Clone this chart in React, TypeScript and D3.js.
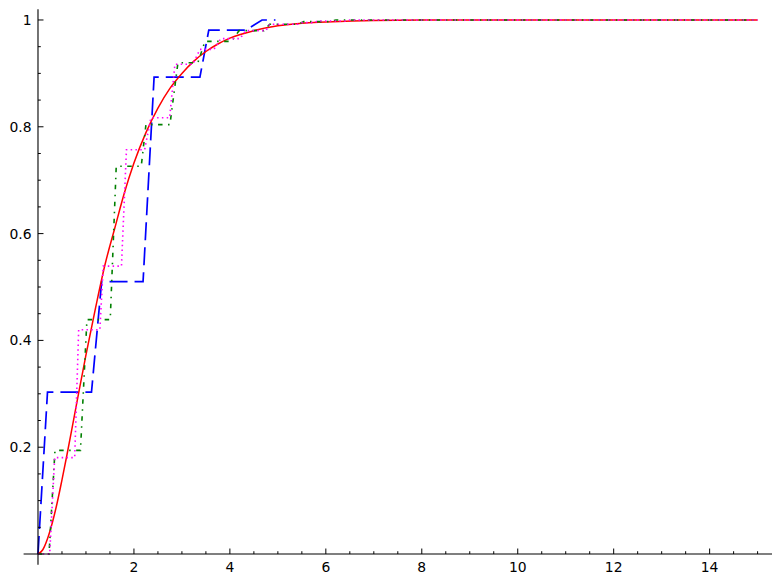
import React from "react";
import * as d3 from "d3";

// Red smooth curve
const redX = [0, 0.1, 0.2, 0.3, 0.4, 0.5, 0.6, 0.7, 0.8, 0.9, 1.0, 1.2, 1.4, 1.6, 1.8, 2.0, 2.25, 2.5, 2.75, 3.0, 3.25, 3.5, 3.75, 4.0, 4.5, 5.0, 5.5, 6.0, 7.0, 8.0, 10, 15];
const redY = [0, 0.008, 0.029, 0.059, 0.096, 0.139, 0.184, 0.231, 0.279, 0.326, 0.373, 0.461, 0.543, 0.61, 0.676, 0.732, 0.789, 0.835, 0.872, 0.9, 0.923, 0.941, 0.955, 0.966, 0.98, 0.989, 0.994, 0.996, 0.999, 1.0, 1.0, 1.0];

// Blue dashed step line
const blueX = [0, 0.198, 1.115, 1.327, 2.19, 2.42, 3.375, 3.56, 4.33, 4.67, 4.95];
const blueY = [0, 0.303, 0.303, 0.51, 0.51, 0.893, 0.893, 0.981, 0.981, 1.0, 1.0];

// Green dash-dot step line
const greenX = [0, 0.23, 0.354, 0.885, 1.02, 1.506, 1.631, 2.152, 2.25, 2.75, 2.917, 3.333, 3.48, 4.04, 4.19, 4.71, 4.83, 5.42, 5.54, 6.08, 6.21, 15];
const greenY = [0, 0, 0.194, 0.194, 0.439, 0.439, 0.726, 0.726, 0.804, 0.804, 0.92, 0.92, 0.96, 0.96, 0.98, 0.98, 0.992, 0.992, 0.997, 0.997, 1.0, 1.0];

// Magenta dotted step line
const magentaX = [0, 0.244, 0.348, 0.765, 0.848, 1.29, 1.36, 1.74, 1.844, 2.223, 2.354, 2.744, 2.854, 3.229, 3.375, 3.667, 3.81, 4.21, 4.33, 4.75, 4.83, 5.42, 5.5, 5.75, 5.83, 6.4, 6.5, 15];
const magentaY = [0, 0, 0.1805, 0.1805, 0.42, 0.42, 0.539, 0.539, 0.757, 0.757, 0.817, 0.817, 0.917, 0.917, 0.945, 0.945, 0.965, 0.965, 0.98, 0.98, 0.992, 0.992, 0.995, 0.995, 0.998, 0.998, 1.0, 1.0];

const xMajorTicks = [2, 4, 6, 8, 10, 12, 14];
const xTickLabels = ["2", "4", "6", "8", "10", "12", "14"];
const yMajorTicks = [0.2, 0.4, 0.6, 0.8, 1];
const yTickLabels = ["0.2", "0.4", "0.6", "0.8", "1"];

const W = 781;
const H = 584;

export default function App() {
  const x = d3.scaleLinear().domain([-0.3, 15.3]).range([23.6, 772]);
  const y = d3.scaleLinear().domain([-0.02, 1.02]).range([564.7, 9.3]);

  const toPts = (xs: number[], ys: number[]) => xs.map((v, i) => [v, ys[i]] as [number, number]);
  const stepLine = d3.line<[number, number]>().x((d) => x(d[0])).y((d) => y(d[1]));
  const smoothLine = d3
    .line<[number, number]>()
    .x((d) => x(d[0]))
    .y((d) => y(d[1]))
    .curve(d3.curveMonotoneX);

  const x0 = x(0);
  const y0 = y(0);

  const xMinor = d3.range(0.5, 15.01, 0.5).filter((v) => Math.abs(v / 2 - Math.round(v / 2)) > 1e-6);
  const yMinor = d3.range(0.05, 1.001, 0.05).filter((v) => Math.abs(v / 0.2 - Math.round(v / 0.2)) > 1e-6);

  const font = { fontFamily: "'DejaVu Sans', sans-serif", fontSize: "13.9px" };

  return (
    <svg
      width={W}
      height={H}
      style={{ position: "absolute", left: 0, top: 0, background: "#fff" }}
    >
      <rect x={0} y={0} width={W} height={H} fill="#fff" />
      {/* data lines */}
      <path d={stepLine(toPts(blueX, blueY)) || ""} fill="none" stroke="#0000ff" strokeWidth={1.7} strokeDasharray="18,7" />
      <path d={smoothLine(toPts(redX, redY)) || ""} fill="none" stroke="#ff0000" strokeWidth={1.5} />
      <path d={stepLine(toPts(greenX, greenY)) || ""} fill="none" stroke="#008000" strokeWidth={1.6} strokeDasharray="4.5,5.5,1.5,5.5" />
      <path d={stepLine(toPts(magentaX, magentaY)) || ""} fill="none" stroke="#ff00ff" strokeWidth={1.6} strokeDasharray="1.5,3.3" />

      {/* axes */}
      <line x1={x(-0.3)} x2={x(15.3)} y1={y0} y2={y0} stroke="#000" strokeWidth={1.1} />
      <line x1={x0} x2={x0} y1={y(-0.02)} y2={y(1.02)} stroke="#000" strokeWidth={1.1} />

      {xMajorTicks.map((v) => (
        <line key={"xM" + v} x1={x(v)} x2={x(v)} y1={y0} y2={y0 - 5.5} stroke="#000" strokeWidth={1} />
      ))}
      {xMinor.map((v) => (
        <line key={"xm" + v} x1={x(v)} x2={x(v)} y1={y0} y2={y0 - 2.8} stroke="#000" strokeWidth={1} />
      ))}
      {yMajorTicks.map((v) => (
        <line key={"yM" + v} x1={x0} x2={x0 + 5.5} y1={y(v)} y2={y(v)} stroke="#000" strokeWidth={1} />
      ))}
      {yMinor.map((v) => (
        <line key={"ym" + v} x1={x0} x2={x0 + 2.8} y1={y(v)} y2={y(v)} stroke="#000" strokeWidth={1} />
      ))}

      {xMajorTicks.map((v, i) => (
        <text key={"xl" + v} x={x(v)} y={y0 + 17.7} textAnchor="middle" style={font} fill="#000">
          {xTickLabels[i]}
        </text>
      ))}
      {yMajorTicks.map((v, i) => (
        <text key={"yl" + v} x={x0 - 6.5} y={y(v) + 5} textAnchor="end" style={font} fill="#000">
          {yTickLabels[i]}
        </text>
      ))}
    </svg>
  );
}
